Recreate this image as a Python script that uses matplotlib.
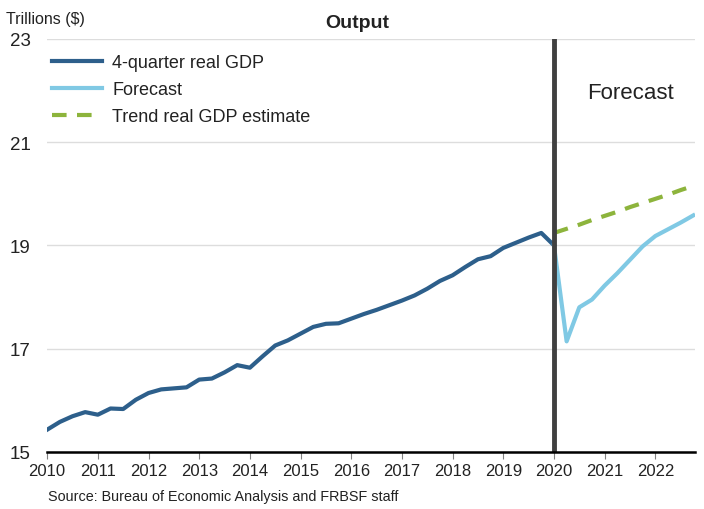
import numpy as np
import matplotlib.pyplot as plt

plt.rcParams['font.family'] = ['Liberation Sans', 'DejaVu Sans']
plt.rcParams['text.color'] = '#222222'
plt.rcParams['xtick.labelcolor'] = '#222222'
plt.rcParams['ytick.labelcolor'] = '#222222'

# Quarterly real GDP, trillions of dollars, 2010Q1 - 2020Q1
gdp = [15.43, 15.58, 15.69, 15.77, 15.72, 15.84, 15.83, 16.01,
       16.14, 16.21, 16.23, 16.25, 16.40, 16.42, 16.54, 16.68,
       16.63, 16.85, 17.06, 17.16, 17.29, 17.42, 17.48, 17.49,
       17.58, 17.67, 17.75, 17.84, 17.93, 18.03, 18.16, 18.31,
       18.42, 18.58, 18.73, 18.79, 18.95, 19.05, 19.15, 19.24,
       19.00]
# Forecast 2020Q1 - 2022Q4
forecast = [19.00, 17.14, 17.80, 17.95, 18.22, 18.46, 18.72, 18.98,
            19.18, 19.31, 19.44, 19.58]
# Trend estimate 2020Q1 - 2022Q4
trend = [19.24, 19.32, 19.40, 19.49, 19.57, 19.65, 19.74, 19.82,
         19.90, 19.98, 20.07, 20.15]

gdp_x = 2010 + np.arange(len(gdp)) / 4
fc_x = 2020 + np.arange(len(forecast)) / 4
tr_x = 2020 + np.arange(len(trend)) / 4

fig = plt.figure(figsize=(7.04, 5.10), dpi=100)
ax = fig.add_axes([0.067, 0.112, 0.92, 0.81])

ax.plot(gdp_x, gdp, color='#2d5f8b', lw=3, label='4-quarter real GDP', zorder=3)
ax.plot(fc_x, forecast, color='#80c9e4', lw=3, label='Forecast', zorder=3)
ax.plot(tr_x, trend, color='#8db43c', lw=3, ls=(0, (3.5, 2.5)),
        label='Trend real GDP estimate', zorder=3)
ax.axvline(2020, color='#404040', lw=3.5, zorder=4)

ax.set_xlim(2010, 2022.78)
ax.set_ylim(15, 23)
ax.set_yticks([15, 17, 19, 21, 23])
ax.set_xticks(range(2010, 2023))
ax.tick_params(axis='y', length=0, labelsize=13.5, pad=12)
ax.tick_params(axis='x', length=5, color='#808080', labelsize=12, pad=3)
ax.grid(axis='y', color='#dddddd', lw=1)
ax.set_axisbelow(True)
for s in ['top', 'right', 'left']:
    ax.spines[s].set_visible(False)
ax.spines['bottom'].set_linewidth(1.8)
ax.spines['bottom'].set_zorder(5)

ax.legend(loc='upper left', frameon=False, fontsize=13, handlelength=2.8,
          handletextpad=0.55, labelspacing=0.55, borderaxespad=0.1,
          bbox_to_anchor=(-0.007, 0.985))

ax.text(2020.65, 21.85, 'Forecast', fontsize=16)
fig.text(0.507, 0.953, 'Output', fontsize=14, fontweight='bold', ha='center', va='center')
fig.text(0.008, 0.962, 'Trillions ($)', fontsize=11.5, va='center')
fig.text(0.068, 0.026, 'Source: Bureau of Economic Analysis and FRBSF staff',
         fontsize=10.4, va='center')

fig.savefig('out.png', dpi=100)
